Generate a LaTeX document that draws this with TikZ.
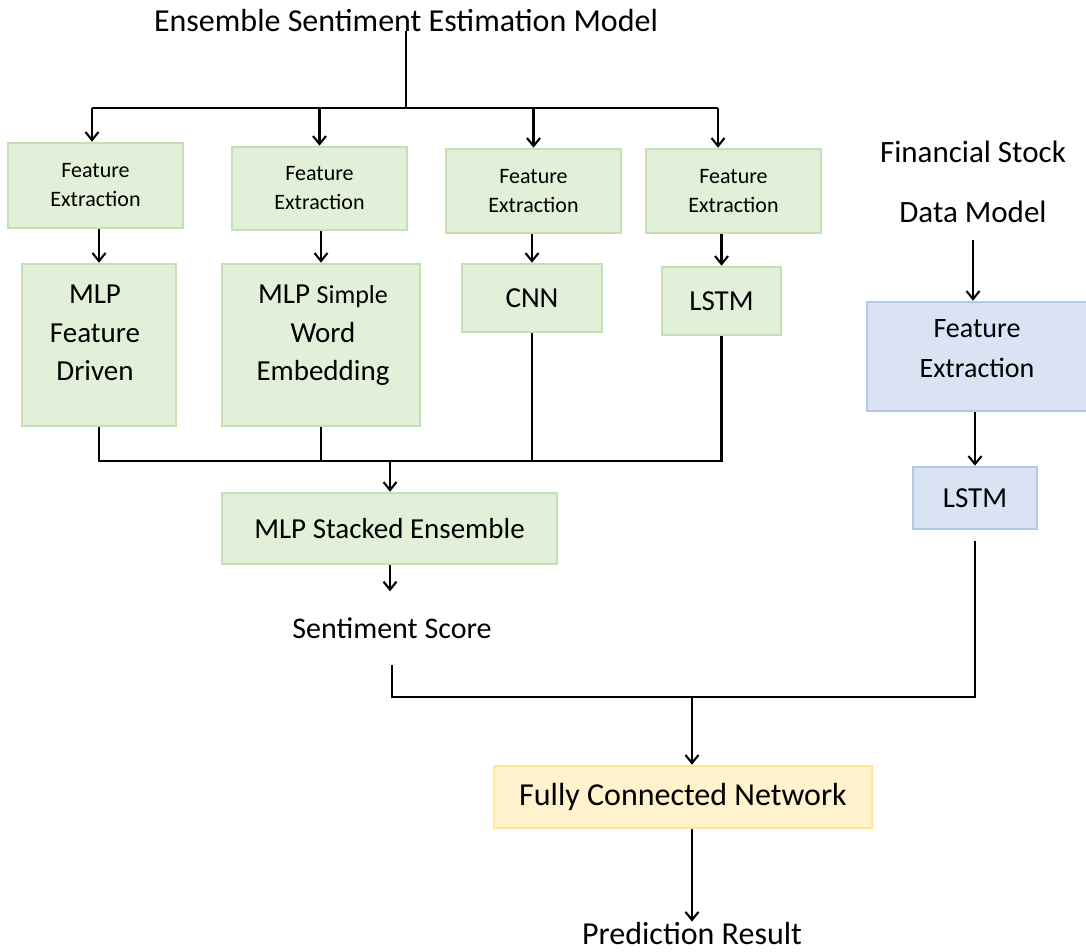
\documentclass[tikz,border=0pt]{standalone}
\usepackage{fontspec}
\setmainfont{Carlito}
\usetikzlibrary{arrows.meta}

\definecolor{gfill}{HTML}{E2F0D9}
\definecolor{gline}{HTML}{C5E0B4}
\definecolor{bfill}{HTML}{DAE3F3}
\definecolor{bline}{HTML}{B4C7E7}
\definecolor{yfill}{HTML}{FFF2CC}
\definecolor{yline}{HTML}{FFE699}

\begin{document}
\begin{tikzpicture}[x=1pt,y=-1pt,
  box/.style={rectangle, line width=2.6pt, inner sep=0pt, align=center},
  gbox/.style={box, fill=gfill, draw=gline},
  bbox/.style={box, fill=bfill, draw=bline},
  ybox/.style={box, fill=yfill, draw=yline},
  txt/.style={inner sep=0pt, align=center},
  fsmall/.style={font=\fontsize{22}{29}\selectfont},
  fmid/.style={font=\fontsize{29}{38.5}\selectfont},
  fbig/.style={font=\fontsize{32}{40}\selectfont},
  wire/.style={line width=2.1pt},
  arr/.style={line width=2.1pt, -{Straight Barb[length=8pt,width=13pt,line width=2.1pt]}},
]
\useasboundingbox (0,0) rectangle (1086,951);

% title of the sentiment branch
\node[txt, fbig, anchor=base] (title) at (406,31) {Ensemble Sentiment Estimation Model};

% feature extraction row
\node[gbox, fsmall, minimum width=175pt, minimum height=85pt] (fe1) at (95.5,185.5) {Feature\\Extraction};
\node[gbox, fsmall, minimum width=175pt, minimum height=83pt] (fe2) at (319.5,188.5) {Feature\\Extraction};
\node[gbox, fsmall, minimum width=175pt, minimum height=84pt] (fe3) at (533.5,191) {Feature\\Extraction};
\node[gbox, fsmall, minimum width=175pt, minimum height=84pt] (fe4) at (733.5,191) {Feature\\Extraction};

% model row
\node[gbox, minimum width=154pt, minimum height=162pt] (mlp1) at (99,345) {};
\node[txt, fmid, anchor=north] (mlp1txt) at (95,285) {MLP\\Feature\\Driven};
\node[gbox, minimum width=198pt, minimum height=162pt] (mlp2) at (321,345) {};
\node[txt, fmid, anchor=north] (mlp2txt) at (323,285) {MLP {\fontsize{26}{38.5}\selectfont Simple}\\Word\\Embedding};
\node[gbox, fmid, minimum width=140pt, minimum height=68pt] (cnn) at (532,298) {CNN};
\node[gbox, fmid, minimum width=119pt, minimum height=68pt] (lstm) at (721.5,301) {LSTM};

% stacked ensemble and its output
\node[gbox, fmid, minimum width=335pt, minimum height=71pt] (stack) at (389.5,528.5) {MLP Stacked Ensemble};
\node[txt, font=\fontsize{30}{36}\selectfont, inner ysep=26pt] (score) at (392,628) {Sentiment Score};

% stock branch
\node[txt, font=\fontsize{31}{60}\selectfont, inner ysep=17pt] (fin) at (973,182) {Financial Stock\\Data Model};
\node[bbox, minimum width=224pt, minimum height=109pt] (fe5) at (979,356.5) {};
\node[txt, font=\fontsize{28}{40}\selectfont] (fe5txt) at (977,348.5) {Feature\\Extraction};
\node[bbox, fmid, minimum width=124pt, minimum height=62pt] (lstm2) at (975,498) {LSTM};

% fusion
\node[ybox, fbig, minimum width=378pt, minimum height=62pt] (fcn) at (683,797) {Fully Connected Network};
\node[txt, fbig, anchor=base] (pred) at (692,944) {Prediction Result};

% fan-out from the title
\coordinate (split) at (406,108);
\coordinate (t1) at (92,108);
\coordinate (t4) at (718,108);
\draw[wire] (title.south) -- (split);
\draw[wire] (t1) -- (t4);
\draw[arr] (t1) -- (t1 |- fe1.north);
\draw[arr] (fe2.north |- split) -- (fe2.north);
\draw[arr] (fe3.north |- split) -- (fe3.north);
\draw[arr] (t4) -- (t4 |- fe4.north);

% feature extraction to models
\draw[arr] (mlp1.north |- fe1.south) -- (mlp1.north);
\draw[arr] (mlp2.north |- fe2.south) -- (mlp2.north);
\draw[arr] (cnn.north |- fe3.south) -- (cnn.north);
\draw[arr] (lstm.north |- fe4.south) -- (lstm.north);

% models merged into the stacked ensemble
\coordinate (j) at (390,461);
\draw[wire] (mlp1.south) |- (lstm.south |- j) -- (lstm.south);
\draw[wire] (mlp2.south) -- (mlp2.south |- j);
\draw[wire] (cnn.south) -- (cnn.south |- j);
\draw[arr] (j) -- (j |- stack.north);
\draw[arr] (j |- stack.south) -- (j |- score.north);

% stock branch arrows
\draw[arr] (fin.south) -- (fin.south |- fe5.north);
\draw[arr] (lstm2.north |- fe5.south) -- (lstm2.north);

% both branches into the fully connected network
\coordinate (m) at (692,697);
\draw[wire] (score.south) |- (m) -| ([yshift=-11pt]lstm2.south);
\draw[arr] (m) -- (m |- fcn.north);
\draw[arr] (m |- fcn.south) -- (pred.north);
\end{tikzpicture}
\end{document}
